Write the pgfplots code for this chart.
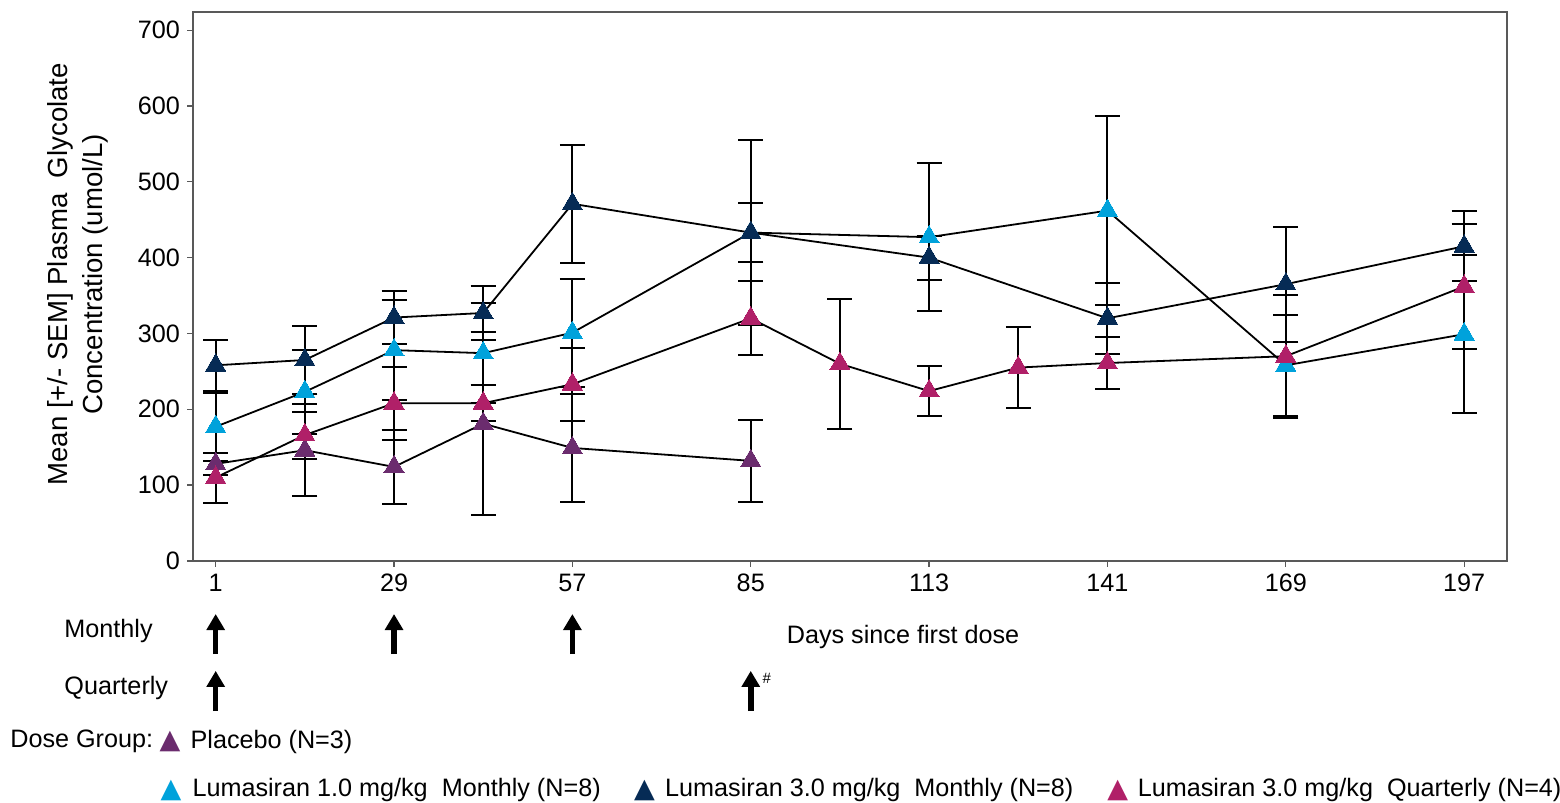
\documentclass[border=0pt]{standalone}
\usepackage{fontspec}
\setmainfont{Liberation Sans}
\newfontfamily\symfont{DejaVu Sans}
\usepackage{pgfplots}
\usepackage{pgfplotstable}
\pgfplotsset{compat=1.18}
\usetikzlibrary{arrows.meta}
\definecolor{cplac}{HTML}{6B2C6E}
\definecolor{clblue}{HTML}{00A2DB}
\definecolor{cnavy}{HTML}{062B55}
\definecolor{cpink}{HTML}{B02068}
\definecolor{caxis}{HTML}{595959}

\pgfplotstableread{
d v e
1 128 15
15 146 61
29 124 49
43 181 121
57 149 71
85 132 54
}\tplac

\pgfplotstableread{
d v e
1 177 45
15 223 55
29 278 66
43 274 66
57 301 71
85 433 122
113 427 98
141 462 125
169 258 67
197 299 104
}\tlblue

\pgfplotstableread{
d v e
1 258 34
15 265 45
29 321 35
43 327 35
57 471 78
85 433 39
113 400 29
141 320 47
169 365 76
197 415 46
}\tnavy

\pgfplotstableread{
d v e
1 110 33
15 166 31
29 208 48
43 208 24
57 233 48
85 320 49
99 260 86
113 224 33
127 255 53
141 261 34
169 270 81
197 362 82
}\tpink

\pgfplotsset{
  ser/.style={black, line width=0.9pt, mark=triangle*, mark size=5.8pt,
    mark options={fill=#1, draw=#1, line width=0pt, solid},
    error bars/.cd, y dir=both, y explicit,
    error bar style={line width=1pt, black},
    error mark options={rotate=90, line width=1pt, mark size=6.25pt, black}},
}
\tikzset{
  dosearrow/.style={black, line width=2.8pt, -{Triangle[width=8.8pt,length=8pt]}},
  txt/.style={font=\fontsize{12.6}{15}\selectfont, inner sep=0pt},
  tri/.style={font=\symfont\fontsize{13.5}{14}\selectfont, text=#1, inner sep=0pt},
}

\begin{document}
\begin{tikzpicture}
\begin{axis}[
  scale only axis, width=657pt, height=274.5pt,
  xmin=-2.56, xmax=203.7, ymin=0, ymax=724,
  xtick={1,29,57,85,113,141,169,197},
  ytick={0,100,...,700},
  xtick pos=bottom, ytick pos=left, tick align=outside,
  major tick length=3pt,
  axis line style={draw=caxis, line width=0.65pt},
  tick style={caxis, line width=0.65pt},
  every tick label/.append style={font=\fontsize{12.6}{15}\selectfont},
  /pgf/number format/assume math mode=true,
  clip=false,
]
\addplot[ser=cplac] table[x=d, y=v, y error=e] {\tplac};
\addplot[ser=clblue] table[x=d, y=v, y error=e] {\tlblue};
\addplot[ser=cnavy] table[x=d, y=v, y error=e] {\tnavy};
\addplot[ser=cpink] table[x=d, y=v, y error=e] {\tpink};

% y label
\node[rotate=90, align=center, font=\fontsize{13.8}{17.5}\selectfont]
  at (axis cs:-20.7,378) {Mean [+/- SEM] Plasma\ \ Glycolate\\Concentration (umol/L)};

% dosing annotations
\node[txt, anchor=west] at (axis cs:-22.8,-92.7) {Monthly};
\node[txt, anchor=west] at (axis cs:-22.8,-167.5) {Quarterly};
\node[txt, anchor=west] at (axis cs:90.6,-100.5) {Days since first dose};
\draw[dosearrow] (axis cs:1,-123) -- (axis cs:1,-70);
\draw[dosearrow] (axis cs:29,-123) -- (axis cs:29,-70);
\draw[dosearrow] (axis cs:57,-123) -- (axis cs:57,-70);
\draw[dosearrow] (axis cs:1,-198) -- (axis cs:1,-145);
\draw[dosearrow] (axis cs:85,-198) -- (axis cs:85,-145);
\node[font=\fontsize{7.5}{9}\selectfont, inner sep=0pt] at (axis cs:87.5,-154.5) {\#};

% legend
\node[txt, anchor=west] at (axis cs:-31.3,-238.5) {Dose Group:};
\node[tri=cplac] at (axis cs:-6.17,-238.5) {▲};
\node[txt, anchor=west] at (axis cs:-3.0,-238.5) {Placebo (N=3)};

\node[tri=clblue] at (axis cs:-6.0,-302.4) {▲};
\node[txt, anchor=west] at (axis cs:-2.7,-302.4) {Lumasiran 1.0 mg/kg\ \ Monthly (N=8)};
\node[tri=cnavy] at (axis cs:68.3,-302.4) {▲};
\node[txt, anchor=west] at (axis cs:71.5,-302.4) {Lumasiran 3.0 mg/kg\ \ Monthly (N=8)};
\node[tri=cpink] at (axis cs:142.6,-302.4) {▲};
\node[txt, anchor=west] at (axis cs:145.7,-302.4) {Lumasiran 3.0 mg/kg\ \ Quarterly (N=4)};

\coordinate (BL) at (axis cs:-32.86,-318.2);
\coordinate (TR) at (axis cs:212.04,739.8);
\end{axis}
\pgfresetboundingbox
\path (BL) rectangle (TR);
\end{tikzpicture}
\end{document}
